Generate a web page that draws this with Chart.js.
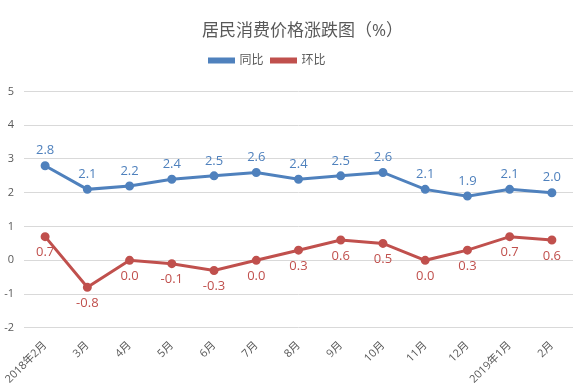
<!DOCTYPE html>
<html>
<head>
<meta charset="utf-8">
<script src="https://cdn.jsdelivr.net/npm/chart.js@4"></script>
<style>
html,body{margin:0;padding:0;background:#fff;}
#wrap{width:579px;height:389px;}
</style>
</head>
<body>
<div id="wrap"><canvas id="c"></canvas></div>
<script>
var months=['2018年2月','3月','4月','5月','6月','7月','8月','9月','10月','11月','12月','2019年1月','2月'];
var yoy=[2.8,2.1,2.2,2.4,2.5,2.6,2.4,2.5,2.6,2.1,1.9,2.1,2.0];
var mom=[0.7,-0.8,0.0,-0.1,-0.3,0.0,0.3,0.6,0.5,0.0,0.3,0.7,0.6];
var blue='#4f81bd';
var red='#c0504d';
var font='"Open Sans","Noto Sans CJK SC",sans-serif';

// simple value labels, blue above, red below
var labelPlugin={
	id:'valueLabels',
	afterDatasetsDraw:function(chart){
		var ctx=chart.ctx;
		ctx.save();
		ctx.font='13px '+font;
		ctx.textAlign='center';
		ctx.textBaseline='middle';
		chart.data.datasets.forEach(function(ds,i){
			var meta=chart.getDatasetMeta(i);
			ctx.fillStyle=ds.borderColor;
			meta.data.forEach(function(pt,j){
				var off=i==0?-15:16;
				ctx.fillText(ds.data[j].toFixed(1),pt.x,pt.y+off);
			});
		});
		ctx.restore();
	}
};
// room below the legend, and nudge title / legend sideways like the original
var legendGap={
	id:'legendGap',
	beforeInit:function(chart){
		var fit=chart.legend.fit;
		chart.legend.fit=function(){
			fit.bind(chart.legend)();
			this.height+=15;
		};
	},
	afterLayout:function(chart){
		chart.legend.left-=21;
		chart.legend.right-=21;
		chart.titleBlock.left+=14;
		chart.titleBlock.right+=14;
	}
};

new Chart(document.getElementById('c'),{
	type:'line',
	data:{
		labels:months,
		datasets:[{
			label:'同比',
			data:yoy,
			borderColor:blue,
			backgroundColor:blue,
			borderWidth:3,
			pointRadius:3,
			pointHoverRadius:3,
			tension:0
		},{
			label:'环比',
			data:mom,
			borderColor:red,
			backgroundColor:red,
			borderWidth:3,
			pointRadius:3,
			pointHoverRadius:3,
			tension:0
		}]
	},
	options:{
		responsive:true,
		maintainAspectRatio:false,
		animation:false,
		layout:{padding:{left:0,right:2,top:21,bottom:0}},
		plugins:{
			title:{
				display:true,
				text:'居民消费价格涨跌图（%）',
				color:'#595959',
				font:{family:font,size:17,weight:'normal'},
				padding:{top:0,bottom:5}
			},
			legend:{
				display:true,
				position:'top',
				labels:{
					color:'#595959',
					font:{family:font,size:12},
					boxWidth:24,
					boxHeight:3,
					padding:8
				}
			},
			tooltip:{enabled:false}
		},
		scales:{
			x:{
				offset:true,
				grid:{display:false},
				border:{display:false},
				ticks:{
					color:'#595959',
					font:{family:font,size:11},
					minRotation:45,
					maxRotation:45,
					autoSkip:false
				}
			},
			y:{
				min:-2,
				max:5,
				afterFit:function(s){s.width=24;},
				grid:{color:'#d9d9d9',drawTicks:false},
				border:{display:false},
				ticks:{
					stepSize:1,
					color:'#595959',
					font:{family:font,size:11},
					padding:10
				}
			}
		}
	},
	plugins:[labelPlugin,legendGap]
});
</script>
</body>
</html>
